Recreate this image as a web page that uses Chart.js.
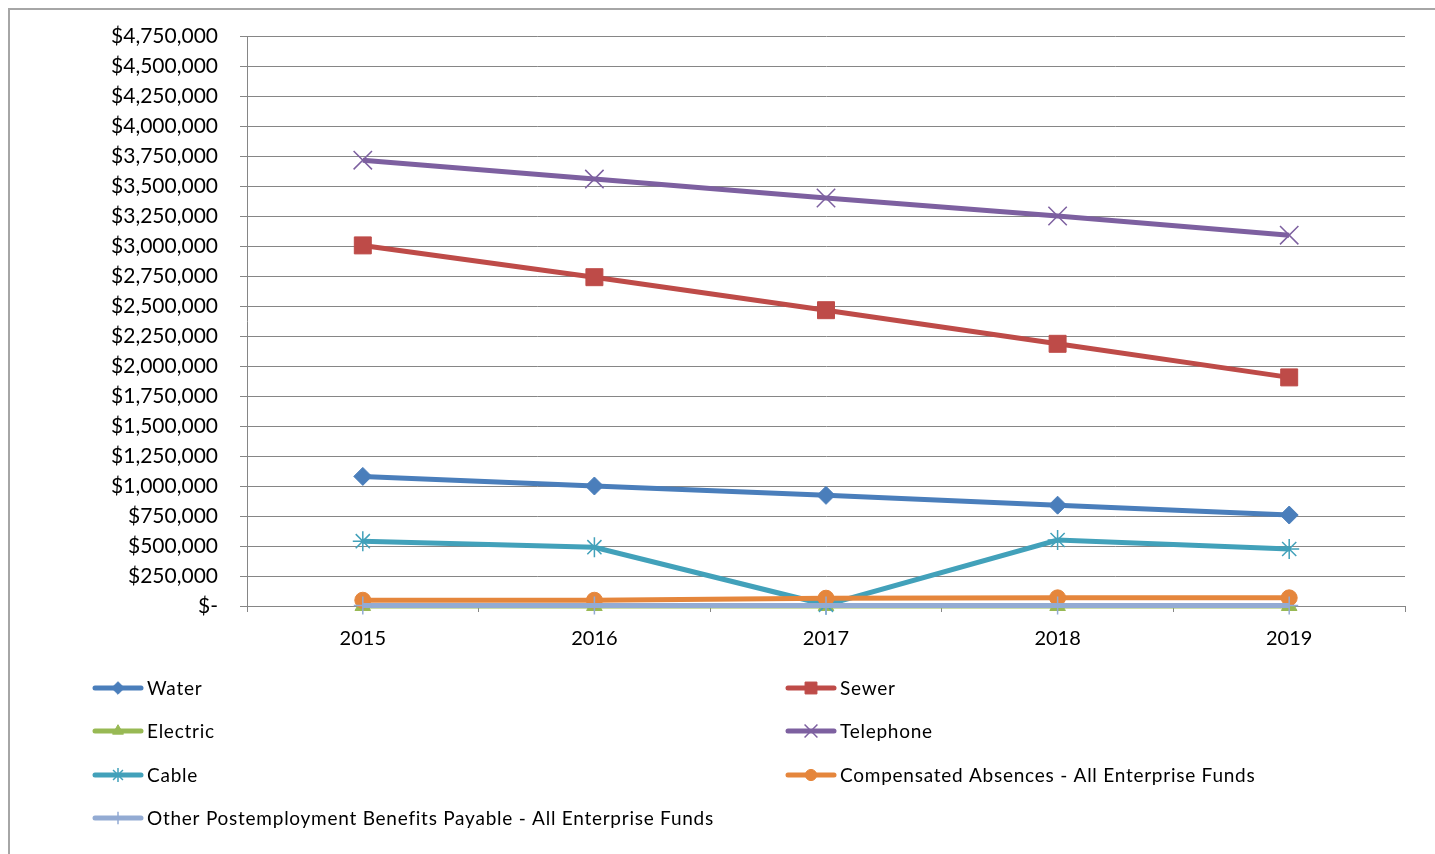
<!DOCTYPE html>
<html>
<head>
<meta charset="utf-8">
<script src="https://cdn.jsdelivr.net/npm/chart.js@4.4.1/dist/chart.umd.min.js"></script>
<style>
  html, body { margin: 0; padding: 0; background: #fff; }
  #wrap { position: relative; width: 1435px; height: 854px; }
</style>
</head>
<body>
<div id="wrap"><canvas id="c"></canvas></div>
<script>
const years = ['2015', '2016', '2017', '2018', '2019'];
const water = [1080000, 1000000, 922000, 840000, 758000];
const sewer = [3005000, 2740000, 2465000, 2185000, 1905000];
const electric = [0, 0, 0, 0, 0];
const telephone = [3715000, 3558000, 3400000, 3250000, 3090000];
const cable = [540000, 490000, 10000, 550000, 475000];
const compensated = [48000, 48000, 65000, 68000, 68000];
const opeb = [5000, 5000, 5000, 5000, 5000];
const seriesNames = ['Water', 'Sewer', 'Electric', 'Telephone', 'Cable',
  'Compensated Absences - All Enterprise Funds',
  'Other Postemployment Benefits Payable - All Enterprise Funds'];
const yMin = 0, yMax = 4750000, yStep = 250000;

const FONT = 'Lato, "Open Sans", sans-serif';

function ds(i, data, line, marker, style, radius) {
  return {
    label: seriesNames[i], data,
    borderColor: line, backgroundColor: marker,
    pointBackgroundColor: marker, pointBorderColor: marker,
    pointStyle: style, pointRadius: radius, pointHoverRadius: radius,
    pointBorderWidth: (style === 'crossRot' || style === 'star' || style === 'cross') ? 1.5 : 1,
    borderWidth: 5, tension: 0, clip: false, order: 10 - i,
    legendRadius: radius
  };
}

const datasets = [
  ds(0, water, '#4A7EBB', '#4A7EBB', 'rectRot', 9),
  ds(1, sewer, '#BE4B48', '#BE4B48', 'rect', 12),
  ds(2, electric, '#98B954', '#98B954', 'triangle', 9),
  ds(3, telephone, '#7D60A0', '#7D60A0', 'crossRot', 13),
  ds(4, cable, '#42A1BA', '#42A1BA', 'star', 10),
  ds(5, compensated, '#E5863C', '#E5863C', 'circle', 8),
  ds(6, opeb, '#93ABD3', '#93ABD3', 'cross', 9)
];

const framePlugin = {
  id: 'frame',
  beforeDraw(chart) {
    const ctx = chart.ctx;
    ctx.save();
    ctx.strokeStyle = '#A6A6A6';
    ctx.lineWidth = 2;
    ctx.beginPath();
    ctx.moveTo(9, 860);
    ctx.lineTo(9, 9);
    ctx.lineTo(1440, 9);
    ctx.stroke();
    ctx.restore();
  }
};

const legendPlugin = {
  id: 'customLegend',
  afterDraw(chart) {
    const ctx = chart.ctx;
    const cols = [93, 786];
    const rows = [688, 731, 775, 818];
    ctx.save();
    chart.data.datasets.forEach((d, i) => {
      const x = cols[i % 2];
      const y = rows[Math.floor(i / 2)];
      ctx.strokeStyle = d.borderColor;
      ctx.lineWidth = 5;
      ctx.lineCap = 'round';
      ctx.beginPath();
      ctx.moveTo(x + 2, y);
      ctx.lineTo(x + 48, y);
      ctx.stroke();
      ctx.lineCap = 'butt';
      ctx.fillStyle = d.pointBackgroundColor;
      ctx.strokeStyle = d.pointBorderColor;
      ctx.lineWidth = d.pointBorderWidth;
      Chart.helpers.drawPoint(ctx, {
        pointStyle: d.pointStyle,
        radius: d.legendRadius * 0.7,
        borderWidth: d.pointBorderWidth,
        rotation: 0
      }, x + 25, y);
      ctx.fillStyle = '#000';
      ctx.font = '19px ' + FONT;
      ctx.textBaseline = 'middle';
      ctx.textAlign = 'left';
      try { ctx.letterSpacing = '0.75px'; } catch (e) {}
      ctx.fillText(d.label, x + 54, y + 1);
      try { ctx.letterSpacing = '0px'; } catch (e) {}
    });
    ctx.restore();
  }
};

new Chart(document.getElementById('c'), {
  type: 'line',
  data: { labels: years, datasets },
  plugins: [framePlugin, legendPlugin],
  options: {
    responsive: true,
    maintainAspectRatio: false,
    animation: false,
    layout: { padding: { top: 36, right: 30, bottom: 196, left: 0 } },
    plugins: { legend: { display: false }, tooltip: { enabled: false } },
    scales: {
      x: {
        offset: true,
        grid: { drawOnChartArea: false, offset: true, tickLength: 6, color: '#868686' },
        border: { color: '#868686', width: 1 },
        ticks: { color: '#000', font: { family: FONT, size: 20 }, padding: 15, maxRotation: 0 },
        afterFit(s) { s.height = 52; }
      },
      y: {
        min: yMin, max: yMax,
        grid: { color: '#868686', tickLength: 7 },
        border: { color: '#868686', width: 1 },
        ticks: {
          stepSize: yStep, color: '#000', font: { family: FONT, size: 21 }, padding: 22,
          callback: v => v === 0 ? '$-' : '$' + Number(v).toLocaleString('en-US')
        },
        afterFit(s) { s.width = 247; }
      }
    }
  }
});
</script>
</body>
</html>
